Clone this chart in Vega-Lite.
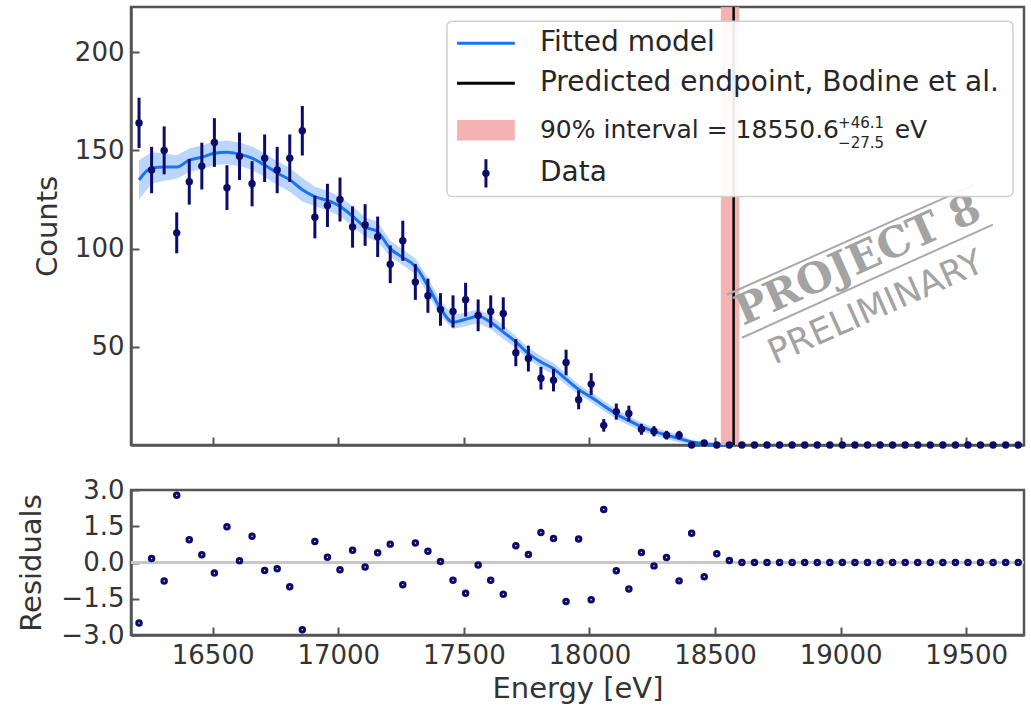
{
  "$schema": "https://vega.github.io/schema/vega-lite/v6.json",
  "padding": {"left": 16, "top": 4, "right": 5, "bottom": 5},
  "background": "white",
  "config": {
    "font": "DejaVu Sans",
    "view": {"stroke": "#555", "strokeWidth": 2.5},
    "axis": {
      "domainColor": "#555", "domainWidth": 2.5, "tickColor": "#555", "tickWidth": 2,
      "tickSize": -8, "labelPadding": 15, "grid": false, "labelOverlap": false,
      "labelFont": "DejaVu Sans", "labelFontSize": 26, "labelColor": "#333",
      "titleFont": "DejaVu Sans", "titleFontSize": 29, "titleFontWeight": "normal", "titleColor": "#333"
    }
  },
  "datasets": {
    "bins": [
      {"E":16207,"c":164,"lo":151.2,"hi":176.8,"r":-2.5},
      {"E":16257,"c":140,"lo":128.2,"hi":151.8,"r":0.17},
      {"E":16307,"c":150,"lo":137.8,"hi":162.2,"r":-0.77},
      {"E":16357,"c":108,"lo":97.6,"hi":118.4,"r":2.78},
      {"E":16407,"c":134,"lo":122.4,"hi":145.6,"r":0.94},
      {"E":16457,"c":142,"lo":130.1,"hi":153.9,"r":0.32},
      {"E":16507,"c":154,"lo":141.6,"hi":166.4,"r":-0.43},
      {"E":16557,"c":131,"lo":119.6,"hi":142.4,"r":1.48},
      {"E":16607,"c":147,"lo":134.9,"hi":159.1,"r":0.07},
      {"E":16657,"c":133,"lo":121.5,"hi":144.5,"r":1.09},
      {"E":16707,"c":146,"lo":133.9,"hi":158.1,"r":-0.33},
      {"E":16757,"c":140,"lo":128.2,"hi":151.8,"r":-0.26},
      {"E":16807,"c":146,"lo":133.9,"hi":158.1,"r":-1.0},
      {"E":16857,"c":160,"lo":147.4,"hi":172.6,"r":-2.78},
      {"E":16907,"c":116,"lo":105.2,"hi":126.8,"r":0.87},
      {"E":16957,"c":122,"lo":111,"hi":133,"r":0.22},
      {"E":17007,"c":125,"lo":113.8,"hi":136.2,"r":-0.3},
      {"E":17057,"c":111,"lo":100.5,"hi":121.5,"r":0.51},
      {"E":17107,"c":112,"lo":101.4,"hi":122.6,"r":-0.19},
      {"E":17157,"c":106,"lo":95.7,"hi":116.3,"r":0.4},
      {"E":17207,"c":92,"lo":82.4,"hi":101.6,"r":0.76},
      {"E":17257,"c":104,"lo":93.8,"hi":114.2,"r":-0.92},
      {"E":17307,"c":83,"lo":73.9,"hi":92.1,"r":0.81},
      {"E":17357,"c":76,"lo":67.3,"hi":84.7,"r":0.47},
      {"E":17407,"c":69,"lo":60.7,"hi":77.3,"r":0.04},
      {"E":17457,"c":68,"lo":59.8,"hi":76.2,"r":-0.73},
      {"E":17507,"c":74,"lo":65.4,"hi":82.6,"r":-1.27},
      {"E":17557,"c":66,"lo":57.9,"hi":74.1,"r":-0.1},
      {"E":17607,"c":68,"lo":59.8,"hi":76.2,"r":-0.73},
      {"E":17657,"c":67,"lo":58.8,"hi":75.2,"r":-1.31},
      {"E":17707,"c":47,"lo":40.1,"hi":53.9,"r":0.69},
      {"E":17757,"c":44,"lo":37.4,"hi":50.6,"r":0.33},
      {"E":17807,"c":34,"lo":28.2,"hi":39.8,"r":1.24},
      {"E":17857,"c":33,"lo":27.3,"hi":38.7,"r":0.99},
      {"E":17907,"c":42,"lo":35.5,"hi":48.5,"r":-1.61},
      {"E":17957,"c":23,"lo":18.2,"hi":27.8,"r":0.97},
      {"E":18007,"c":31,"lo":25.4,"hi":36.6,"r":-1.54},
      {"E":18057,"c":10,"lo":6.8,"hi":13.2,"r":2.19},
      {"E":18107,"c":17,"lo":12.9,"hi":21.1,"r":-0.34},
      {"E":18157,"c":16,"lo":12,"hi":20,"r":-1.1},
      {"E":18207,"c":8,"lo":5.2,"hi":10.8,"r":0.41},
      {"E":18257,"c":7,"lo":4.4,"hi":9.6,"r":-0.14},
      {"E":18307,"c":5,"lo":2.8,"hi":7.2,"r":0.21},
      {"E":18357,"c":5,"lo":2.8,"hi":7.2,"r":-0.76},
      {"E":18407,"c":0,"lo":0,"hi":0,"r":1.21},
      {"E":18457,"c":1,"lo":0,"hi":2,"r":-0.59},
      {"E":18507,"c":0,"lo":0,"hi":0,"r":0.36},
      {"E":18557,"c":0,"lo":0,"hi":0,"r":0.08},
      {"E":18607,"c":0,"lo":0,"hi":0,"r":0},
      {"E":18657,"c":0,"lo":0,"hi":0,"r":0},
      {"E":18707,"c":0,"lo":0,"hi":0,"r":0},
      {"E":18757,"c":0,"lo":0,"hi":0,"r":0},
      {"E":18807,"c":0,"lo":0,"hi":0,"r":0},
      {"E":18857,"c":0,"lo":0,"hi":0,"r":0},
      {"E":18907,"c":0,"lo":0,"hi":0,"r":0},
      {"E":18957,"c":0,"lo":0,"hi":0,"r":0},
      {"E":19007,"c":0,"lo":0,"hi":0,"r":0},
      {"E":19057,"c":0,"lo":0,"hi":0,"r":0},
      {"E":19107,"c":0,"lo":0,"hi":0,"r":0},
      {"E":19157,"c":0,"lo":0,"hi":0,"r":0},
      {"E":19207,"c":0,"lo":0,"hi":0,"r":0},
      {"E":19257,"c":0,"lo":0,"hi":0,"r":0},
      {"E":19307,"c":0,"lo":0,"hi":0,"r":0},
      {"E":19357,"c":0,"lo":0,"hi":0,"r":0},
      {"E":19407,"c":0,"lo":0,"hi":0,"r":0},
      {"E":19457,"c":0,"lo":0,"hi":0,"r":0},
      {"E":19507,"c":0,"lo":0,"hi":0,"r":0},
      {"E":19557,"c":0,"lo":0,"hi":0,"r":0},
      {"E":19607,"c":0,"lo":0,"hi":0,"r":0},
      {"E":19657,"c":0,"lo":0,"hi":0,"r":0},
      {"E":19707,"c":0,"lo":0,"hi":0,"r":0}
    ],
    "model": [
      {"E":16207,"m":135,"lo":125,"hi":145},
      {"E":16257,"m":141,"lo":133,"hi":149},
      {"E":16307,"m":141.5,"lo":134.5,"hi":148.5},
      {"E":16357,"m":141.5,"lo":135.5,"hi":147.5},
      {"E":16407,"m":145,"lo":139,"hi":151},
      {"E":16457,"m":146.5,"lo":140.5,"hi":152.5},
      {"E":16507,"m":148.5,"lo":142.5,"hi":154.5},
      {"E":16557,"m":149,"lo":143,"hi":155},
      {"E":16607,"m":148,"lo":142,"hi":154},
      {"E":16657,"m":146,"lo":140,"hi":152},
      {"E":16707,"m":142.5,"lo":136.5,"hi":148.5},
      {"E":16757,"m":138.5,"lo":132.5,"hi":144.5},
      {"E":16807,"m":135,"lo":129,"hi":141},
      {"E":16857,"m":130,"lo":124,"hi":136},
      {"E":16907,"m":126.5,"lo":121.5,"hi":131.5},
      {"E":16957,"m":124.5,"lo":119.5,"hi":129.5},
      {"E":17007,"m":121.5,"lo":116.5,"hi":126.5},
      {"E":17057,"m":116.5,"lo":111.5,"hi":121.5},
      {"E":17107,"m":111,"lo":106,"hi":116},
      {"E":17157,"m":108.5,"lo":103.5,"hi":113.5},
      {"E":17207,"m":100,"lo":96,"hi":104},
      {"E":17257,"m":95.5,"lo":91.5,"hi":99.5},
      {"E":17307,"m":91,"lo":87,"hi":95},
      {"E":17357,"m":81,"lo":77,"hi":85},
      {"E":17407,"m":69.5,"lo":65.5,"hi":73.5},
      {"E":17457,"m":62.5,"lo":59,"hi":66},
      {"E":17507,"m":64,"lo":60.5,"hi":67.5},
      {"E":17557,"m":65.5,"lo":62,"hi":69},
      {"E":17607,"m":62.5,"lo":59,"hi":66},
      {"E":17657,"m":57.5,"lo":54,"hi":61},
      {"E":17707,"m":52.5,"lo":49.5,"hi":55.5},
      {"E":17757,"m":46.5,"lo":43.5,"hi":49.5},
      {"E":17807,"m":42.3,"lo":39.3,"hi":45.3},
      {"E":17857,"m":38.8,"lo":35.8,"hi":41.8},
      {"E":17907,"m":33.5,"lo":30.5,"hi":36.5},
      {"E":17957,"m":28.3,"lo":25.8,"hi":30.8},
      {"E":18007,"m":24.3,"lo":21.8,"hi":26.8},
      {"E":18057,"m":20,"lo":17.5,"hi":22.5},
      {"E":18107,"m":15.7,"lo":13.2,"hi":18.2},
      {"E":18157,"m":12.4,"lo":9.9,"hi":14.9},
      {"E":18207,"m":9.3,"lo":7.3,"hi":11.3},
      {"E":18257,"m":6.9,"lo":4.9,"hi":8.9},
      {"E":18307,"m":5,"lo":3,"hi":7},
      {"E":18357,"m":3.3,"lo":1.3,"hi":5.3},
      {"E":18407,"m":1.5,"lo":0.5,"hi":2.5},
      {"E":18457,"m":0.6,"lo":0,"hi":1.6},
      {"E":18507,"m":0.15,"lo":0,"hi":1.15},
      {"E":18557,"m":0,"lo":0,"hi":1}
    ]
  },
  "vconcat": [
    {
      "width": 893,
      "height": 438,
      "layer": [
        {
          "data": {"name": "model"},
          "mark": {"type": "area", "color": "#4a93ff", "opacity": 0.38},
          "encoding": {
            "x": {"field": "E", "type": "quantitative", "scale": {"domain": [16175, 19730], "nice": false, "zero": false},
                  "axis": {"values": [16500, 17000, 17500, 18000, 18500, 19000, 19500], "labels": false, "title": null, "labelPadding": 24}},
            "y": {"field": "lo", "type": "quantitative", "scale": {"domain": [0, 223], "nice": false},
                  "axis": {"values": [50, 100, 150, 200], "title": "Counts", "titlePadding": 12}},
            "y2": {"field": "hi"}
          }
        },
        {
          "data": {"name": "model"},
          "mark": {"type": "line", "color": "#1a72f5", "strokeWidth": 3, "interpolate": "monotone"},
          "encoding": {
            "x": {"field": "E", "type": "quantitative"},
            "y": {"field": "m", "type": "quantitative"}
          }
        },
        {
          "data": {"values": [{}]},
          "mark": {"type": "rect", "color": "#f4aaaa", "opacity": 0.9},
          "encoding": {
            "x": {"datum": 18523, "type": "quantitative"},
            "x2": {"datum": 18597}
          }
        },
        {
          "data": {"values": [{}]},
          "mark": {"type": "rule", "color": "black", "strokeWidth": 2.5},
          "encoding": {
            "x": {"datum": 18574, "type": "quantitative"}
          }
        },
        {
          "data": {"name": "bins"},
          "mark": {"type": "rule", "color": "#0b0b6b", "strokeWidth": 3},
          "encoding": {
            "x": {"field": "E", "type": "quantitative"},
            "y": {"field": "lo", "type": "quantitative"},
            "y2": {"field": "hi"}
          }
        },
        {
          "data": {"name": "bins"},
          "mark": {"type": "point", "filled": true, "color": "#0b0b6b", "size": 55, "opacity": 1},
          "encoding": {
            "x": {"field": "E", "type": "quantitative"},
            "y": {"field": "c", "type": "quantitative"}
          }
        },
        {
          "data": {"values": [{}]},
          "mark": {"type": "rule", "color": "#aaa", "strokeWidth": 2},
          "encoding": {
            "x": {"datum": 18547, "type": "quantitative"}, "x2": {"datum": 19535},
            "y": {"datum": 76.5, "type": "quantitative"}, "y2": {"datum": 132.7}
          }
        },
        {
          "data": {"values": [{}]},
          "mark": {"type": "rule", "color": "#aaa", "strokeWidth": 2},
          "encoding": {
            "x": {"datum": 18607, "type": "quantitative"}, "x2": {"datum": 19606},
            "y": {"datum": 54.6, "type": "quantitative"}, "y2": {"datum": 112.2}
          }
        },
        {
          "data": {"values": [{}]},
          "mark": {"type": "text", "text": "PROJECT 8", "font": "DejaVu Serif", "fontWeight": "bold", "fontSize": 42, "color": "#a3a3a3", "angle": -24, "align": "center", "baseline": "middle"},
          "encoding": {
            "x": {"datum": 19069, "type": "quantitative"},
            "y": {"datum": 94, "type": "quantitative"}
          }
        },
        {
          "data": {"values": [{}]},
          "mark": {"type": "text", "text": "PRELIMINARY", "font": "DejaVu Sans", "fontSize": 35, "color": "#a3a3a3", "angle": -24, "align": "center", "baseline": "middle"},
          "encoding": {
            "x": {"datum": 19140, "type": "quantitative"},
            "y": {"datum": 70, "type": "quantitative"}
          }
        },
        {
          "data": {"values": [{}]},
          "mark": {"type": "rect", "fill": "white", "fillOpacity": 0.92, "stroke": "#d0d0d0", "strokeWidth": 1.5, "cornerRadius": 5},
          "encoding": {
            "x": {"datum": 17433, "type": "quantitative"}, "x2": {"datum": 19686},
            "y": {"datum": 215.8, "type": "quantitative"}, "y2": {"datum": 126.5}
          }
        },
        {
          "data": {"values": [{}]},
          "mark": {"type": "rule", "color": "#1a72f5", "strokeWidth": 3},
          "encoding": {
            "x": {"datum": 17473, "type": "quantitative"}, "x2": {"datum": 17703},
            "y": {"datum": 204.6, "type": "quantitative"}
          }
        },
        {
          "data": {"values": [{}]},
          "mark": {"type": "rule", "color": "black", "strokeWidth": 3},
          "encoding": {
            "x": {"datum": 17473, "type": "quantitative"}, "x2": {"datum": 17703},
            "y": {"datum": 184.2, "type": "quantitative"}
          }
        },
        {
          "data": {"values": [{}]},
          "mark": {"type": "rect", "color": "#f4aaaa", "opacity": 0.9},
          "encoding": {
            "x": {"datum": 17473, "type": "quantitative"}, "x2": {"datum": 17703},
            "y": {"datum": 165.5, "type": "quantitative"}, "y2": {"datum": 155}
          }
        },
        {
          "data": {"values": [{}]},
          "mark": {"type": "rule", "color": "#0b0b6b", "strokeWidth": 3},
          "encoding": {
            "x": {"datum": 17588, "type": "quantitative"},
            "y": {"datum": 131.1, "type": "quantitative"}, "y2": {"datum": 145.5}
          }
        },
        {
          "data": {"values": [{}]},
          "mark": {"type": "point", "filled": true, "color": "#0b0b6b", "size": 55, "opacity": 1},
          "encoding": {
            "x": {"datum": 17588, "type": "quantitative"},
            "y": {"datum": 138.3, "type": "quantitative"}
          }
        },
        {
          "data": {"values": [{}]},
          "mark": {"type": "text", "text": "Fitted model", "fontSize": 28, "color": "#262626", "align": "left", "baseline": "middle"},
          "encoding": {"x": {"datum": 17803, "type": "quantitative"}, "y": {"datum": 204.6, "type": "quantitative"}}
        },
        {
          "data": {"values": [{}]},
          "mark": {"type": "text", "text": "Predicted endpoint, Bodine et al.", "fontSize": 28, "color": "#262626", "align": "left", "baseline": "middle"},
          "encoding": {"x": {"datum": 17803, "type": "quantitative"}, "y": {"datum": 184.2, "type": "quantitative"}}
        },
        {
          "data": {"values": [{}]},
          "mark": {"type": "text", "text": "90% interval = 18550.6", "fontSize": 25, "color": "#262626", "align": "left", "baseline": "middle"},
          "encoding": {"x": {"datum": 17803, "type": "quantitative"}, "y": {"datum": 160.5, "type": "quantitative"}}
        },
        {
          "data": {"values": [{}]},
          "mark": {"type": "text", "text": "+46.1", "fontSize": 15, "color": "#262626", "align": "left", "baseline": "middle"},
          "encoding": {"x": {"datum": 18990, "type": "quantitative"}, "y": {"datum": 164, "type": "quantitative"}}
        },
        {
          "data": {"values": [{}]},
          "mark": {"type": "text", "text": "−27.5", "fontSize": 15, "color": "#262626", "align": "left", "baseline": "middle"},
          "encoding": {"x": {"datum": 18990, "type": "quantitative"}, "y": {"datum": 154, "type": "quantitative"}}
        },
        {
          "data": {"values": [{}]},
          "mark": {"type": "text", "text": "eV", "fontSize": 25, "color": "#262626", "align": "left", "baseline": "middle"},
          "encoding": {"x": {"datum": 19215, "type": "quantitative"}, "y": {"datum": 160.5, "type": "quantitative"}}
        },
        {
          "data": {"values": [{}]},
          "mark": {"type": "text", "text": "Data", "fontSize": 28, "color": "#262626", "align": "left", "baseline": "middle"},
          "encoding": {"x": {"datum": 17803, "type": "quantitative"}, "y": {"datum": 138.3, "type": "quantitative"}}
        }
      ]
    },
    {
      "width": 893,
      "height": 145,
      "layer": [
        {
          "data": {"values": [{}]},
          "mark": {"type": "rule", "color": "#c8c8c8", "strokeWidth": 3},
          "encoding": {
            "y": {"datum": 0, "type": "quantitative", "scale": {"domain": [-3, 3], "nice": false},
                  "axis": {"values": [-3, -1.5, 0, 1.5, 3], "format": ".1f", "labelOverlap": false, "labelSeparation": -30, "labelBound": false, "labelExpr": "replace(datum.label, '-', '−')", "title": "Residuals", "titlePadding": 14}}
          }
        },
        {
          "data": {"name": "bins"},
          "mark": {"type": "point", "filled": false, "color": "#0b0b6b", "strokeWidth": 3, "size": 20, "opacity": 1},
          "encoding": {
            "x": {"field": "E", "type": "quantitative", "scale": {"domain": [16175, 19730], "nice": false, "zero": false},
                  "axis": {"values": [16500, 17000, 17500, 18000, 18500, 19000, 19500], "format": "d", "title": "Energy [eV]", "titlePadding": 6}},
            "y": {"field": "r", "type": "quantitative",
                  "axis": {"values": [-3, -1.5, 0, 1.5, 3], "format": ".1f", "labelOverlap": false, "labelSeparation": -30, "labelBound": false, "labelExpr": "replace(datum.label, '-', '−')", "title": "Residuals", "titlePadding": 14}}
          }
        }
      ]
    }
  ],
  "spacing": 22
}
